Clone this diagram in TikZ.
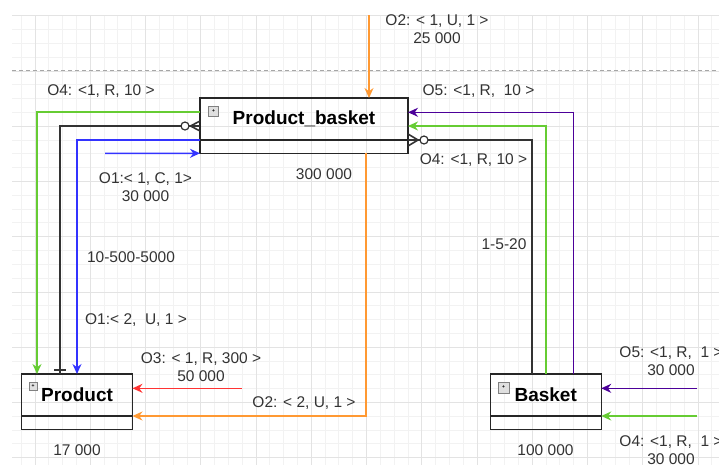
\documentclass[tikz,border=0pt]{standalone}
\usepackage{fontspec}
\setmainfont{Liberation Sans}
\usetikzlibrary{arrows.meta,positioning,calc}

\definecolor{lgreen}{HTML}{66CC33}
\definecolor{lblue}{HTML}{3333FF}
\definecolor{lpurple}{HTML}{4C0099}
\definecolor{lorange}{HTML}{FF9933}
\definecolor{lred}{HTML}{FF3333}
\definecolor{txt}{HTML}{333333}

\begin{document}
\begin{tikzpicture}[x=1pt,y=-1pt,>={Stealth[length=10pt,width=9pt]},font=\fontsize{15.5}{18}\selectfont]
\tikzstyle{cls}=[draw=black!85,line width=1.3pt,outer sep=0pt,inner sep=0pt,minimum height=42pt,font=\fontsize{19}{22}\selectfont\bfseries]
\tikzstyle{clsl}=[draw=black!85,line width=1.3pt,outer sep=0pt,inner sep=0pt,minimum height=13.3pt]
\tikzstyle{icon}=[draw=gray,fill=gray!25,minimum size=10pt,inner sep=0pt,font=\tiny\bfseries]
\tikzstyle{lbl}=[align=center,inner sep=0pt,text=txt]
\tikzstyle{rel}=[draw=black!80,line width=1.6pt]
\tikzstyle{flow}=[line width=1.4pt,->]
\tikzstyle{gridmin}=[draw=black!5,line width=0.8pt]
\tikzstyle{gridmaj}=[draw=black!11,line width=0.9pt]

\useasboundingbox (0,0) rectangle (719,464);
\clip (0,0) rectangle (719,464);

\foreach \i in {0,...,50} \draw[gridmin] ({21.2+13.8125*\i},15.7) -- ++(0,449);
\foreach \i in {0,...,32} \draw[gridmin] (12,{15.7+13.8125*\i}) -- (719,{15.7+13.8125*\i});
\foreach \i in {0,...,12} \draw[gridmaj] ({35+55.25*\i},15.7) -- ++(0,449);
\foreach \i in {0,...,8} \draw[gridmaj] (12,{15.7+55.25*\i}) -- (719,{15.7+55.25*\i});
\draw[black!35,line width=0.9pt,dash pattern=on 4pt off 3pt] (12,70.7) -- (719,70.7);

\node[cls,minimum width=208pt] (pb) at (304,119) {Product\_basket};
\node[clsl,minimum width=208pt,below=0pt of pb] (pbl) {};
\node[icon] (pbicon) at (213.5,111) {+};
\node[cls,minimum width=111pt] (prod) at (77,395) {Product};
\node[clsl,minimum width=111pt,below=0pt of prod] (prodl) {};
\node[icon,minimum size=8pt] (prodicon) at (33,386) {+};
\node[cls,minimum width=111pt] (bask) at (545.7,395) {Basket};
\node[clsl,minimum width=111pt,below=0pt of bask] (baskl) {};
\node[icon,minimum size=11pt] (baskicon) at (503.5,387.5) {+};

\coordinate (cfl) at (pb.west |- 0,126);
\draw[rel] (cfl) -| (prod.north -| 60,0);
\draw[rel] ($(cfl)+(-9.5,0)$) -- ($(cfl)+(0,-5)$) ($(cfl)+(-9.5,0)$) -- ($(cfl)+(0,5)$);
\draw[rel,fill=white,line width=1.2pt] ($(cfl)+(-15,0)$) circle (4pt);
\draw[rel,line width=1.2pt] ($(prod.north -| 60,0)+(-6,-4)$) -- ++(12,0);

\coordinate (cfr) at (pb.south east);
\draw[rel] (cfr) -| (bask.north -| 532,0);
\draw[rel] ($(cfr)+(10,0)$) -- ($(cfr)+(0,-6)$) ($(cfr)+(10,0)$) -- ($(cfr)+(0,6)$);
\draw[rel,fill=white,line width=1.2pt] ($(cfr)+(16,0)$) circle (4pt);

\draw[flow,lgreen] (pb.west |- 0,112) -| (prod.north -| 37,0);
\draw[flow,lblue] (pb.south west) -| (prod.north -| 77,0);
\coordinate (o1s) at (105,153.3);
\draw[flow,lblue] (o1s) -- (pbl.south west);
\coordinate (o2top) at (369,15);
\draw[flow,lorange] (o2top) -- (pb.north -| 369,0);
\draw[flow,lorange] (pbl.south -| 366,0) |- (prod.south east);
\coordinate (o3s) at (242,388.3);
\draw[flow,lred] (o3s) -- (prod.east |- o3s);
\draw[flow,lgreen] (bask.north -| 546,0) |- (pb.east |- 0,126);
\draw[flow,lpurple] (bask.north -| 573.3,0) |- (pb.east |- 0,112.3);
\coordinate (o5s) at (697,388.3);
\draw[flow,lpurple] (o5s) -- (bask.east |- o5s);
\coordinate (o4s) at (697,416);
\draw[flow,lgreen] (o4s) -- (bask.south east);

\node[lbl] (lo2a) at (437,29.5) {O2: < 1, U, 1 >\\25 000};
\node[lbl] (lo4a) at (101,91) {O4: <1, R, 10 >};
\node[lbl] (lo5a) at (478.5,91) {O5: <1, R,~~10 >};
\node[lbl] (lo4b) at (473.5,160) {O4: <1, R, 10 >};
\node[lbl] (lo1a) at (145.5,187.5) {O1:< 1, C, 1>\\30 000};
\node[lbl] (lpb) at (324,174) {300 000};
\node[lbl] (lrl) at (131,257) {10-500-5000};
\node[lbl] (lrr) at (504,244) {1-5-20};
\node[lbl] (lo1b) at (136,320) {O1:< 2,~~U, 1 >};
\node[lbl] (lo3) at (201,367) {O3: < 1, R, 300 >\\50 000};
\node[lbl] (lo2b) at (304,403) {O2: < 2, U, 1 >};
\node[lbl] (lprod) at (77,450) {17 000};
\node[lbl] (lbask) at (545.5,450) {100 000};
\node[lbl] (lo5b) at (671,361) {O5: <1, R,~~1 >\\30 000};
\node[lbl] (lo4c) at (671,450) {O4: <1, R,~~1 >\\30 000};
\end{tikzpicture}
\end{document}
